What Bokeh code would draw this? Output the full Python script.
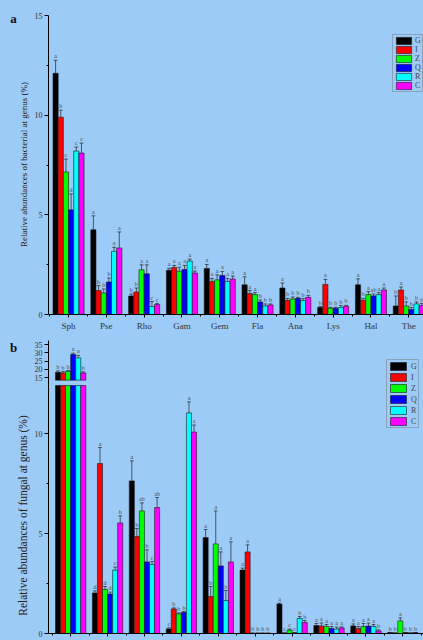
import numpy as np
from bokeh.plotting import figure
from bokeh.models import Range1d, FixedTicker, Legend, LegendItem
from bokeh.layouts import column, row
from bokeh.embed import file_html
from bokeh.resources import INLINE
from bokeh.core.properties import value

# ---------------- data ----------------
series = ["G", "I", "Z", "Q", "R", "C"]
colors = ["#000000", "#FF0000", "#00FF00", "#0000FF", "#00FFFF", "#FF00FF"]

bac_genera = ["Sph", "Pse", "Rho", "Gam", "Gem", "Fla", "Ana", "Lys", "Hal", "The"]
bac_G = [12.1, 4.25, 0.93, 2.22, 2.31, 1.49, 1.33, 0.35, 1.49, 0.43]
bac_I = [9.9, 1.2, 1.13, 2.36, 1.66, 1.05, 0.71, 1.51, 0.71, 1.23]
bac_Z = [7.15, 1.08, 2.24, 2.17, 1.74, 1.0, 0.78, 0.31, 1.0, 0.43]
bac_Q = [5.25, 1.63, 2.04, 2.26, 1.96, 0.63, 0.81, 0.31, 0.93, 0.25]
bac_R = [8.2, 3.17, 0.4, 2.68, 1.66, 0.43, 0.7, 0.35, 1.0, 0.53]
bac_C = [8.1, 3.34, 0.5, 2.08, 1.78, 0.48, 0.86, 0.41, 1.23, 0.45]
bac_G_err = [0.65, 0.7, 0.1, 0.1, 0.2, 0.4, 0.25, 0.05, 0.3, 0.5]
bac_I_err = [0.35, 0.25, 0.2, 0.1, 0.15, 0.15, 0.1, 0.25, 0.1, 0.15]
bac_Z_err = [0.65, 0.2, 0.25, 0.2, 0.25, 0.1, 0.1, 0.05, 0.15, 0.2]
bac_Q_err = [0.8, 0.2, 0.45, 0.2, 0.2, 0.1, 0.05, 0.05, 0.1, 0.1]
bac_R_err = [0.2, 0.2, 0.25, 0.1, 0.15, 0.1, 0.1, 0.1, 0.1, 0.1]
bac_C_err = [0.5, 0.8, 0.05, 0.1, 0.15, 0.05, 0.1, 0.05, 0.1, 0.1]
bac_G_sig = ["a", "a", "b", "a", "a", "a", "a", "b", "a", "b"]
bac_I_sig = ["b", "b", "b", "a", "a", "a", "b", "a", "b", "a"]
bac_Z_sig = ["c", "b", "a", "a", "a", "a", "b", "b", "a", "b"]
bac_Q_sig = ["d", "b", "a", "a", "a", "b", "b", "b", "ab", "b"]
bac_R_sig = ["c", "a", "c", "a", "a", "b", "b", "b", "a", "b"]
bac_C_sig = ["c", "a", "c", "a", "a", "b", "b", "b", "a", "b"]

fun_n = 10
fun_G = [18.2, 2.03, 7.63, 0.23, 4.8, 3.17, 1.47, 0.4, 0.38, 0.05]
fun_I = [17.8, 8.5, 4.85, 1.23, 1.85, 4.08, 0.03, 0.38, 0.25, 0.03]
fun_Z = [18.6, 2.2, 6.13, 0.98, 4.48, 0.02, 0.17, 0.35, 0.35, 0.63]
fun_Q = [28.9, 1.97, 3.58, 1.05, 3.38, 0.02, 0.04, 0.25, 0.37, 0.05]
fun_R = [26.9, 3.17, 3.45, 11.03, 1.65, 0.02, 0.75, 0.22, 0.35, 0.03]
fun_C = [17.8, 5.53, 6.3, 10.07, 3.58, 0.02, 0.55, 0.28, 0.13, 0.05]
fun_G_err = [0.8, 0.1, 1.0, 0.05, 0.4, 0.1, 0.05, 0.1, 0.1, 0.0]
fun_I_err = [0.8, 0.8, 0.4, 0.05, 0.5, 0.35, 0.0, 0.15, 0.1, 0.0]
fun_Z_err = [0.6, 0.15, 0.4, 0.05, 1.65, 0.0, 0.05, 0.1, 0.15, 0.15]
fun_Q_err = [0.8, 0.1, 0.6, 0.05, 0.7, 0.0, 0.0, 0.1, 0.15, 0.0]
fun_R_err = [1.5, 0.15, 0.15, 0.55, 0.5, 0.0, 0.1, 0.1, 0.1, 0.0]
fun_C_err = [0.6, 0.35, 0.5, 0.35, 1.0, 0.0, 0.1, 0.05, 0.05, 0.0]
fun_G_sig = ["b", "d", "a", "c", "a", "a", "a", "a", "a", "b"]
fun_I_sig = ["b", "a", "b", "b", "b", "a", "c", "a", "a", "b"]
fun_Z_sig = ["b", "d", "ab", "b", "a", "b", "c", "a", "a", "a"]
fun_Q_sig = ["a", "d", "b", "b", "a", "b", "c", "a", "a", "b"]
fun_R_sig = ["a", "c", "c", "a", "b", "b", "b", "a", "a", "b"]
fun_C_sig = ["b", "b", "ab", "a", "a", "b", "b", "a", "b", "b"]

bac_vals = [bac_G, bac_I, bac_Z, bac_Q, bac_R, bac_C]
bac_errs = [bac_G_err, bac_I_err, bac_Z_err, bac_Q_err, bac_R_err, bac_C_err]
bac_sigs = [bac_G_sig, bac_I_sig, bac_Z_sig, bac_Q_sig, bac_R_sig, bac_C_sig]
fun_vals = [fun_G, fun_I, fun_Z, fun_Q, fun_R, fun_C]
fun_errs = [fun_G_err, fun_I_err, fun_Z_err, fun_Q_err, fun_R_err, fun_C_err]
fun_sigs = [fun_G_sig, fun_I_sig, fun_Z_sig, fun_Q_sig, fun_R_sig, fun_C_sig]

label_a = "a"
label_b = "b"
ylabel_a = "Relative abundances of bacterial at genus (%)"
ylabel_b = "Relative abundances of fungal at genus (%)"

# ---------------- style ----------------
BG = "#9DCBF7"
FONT = "Liberation Serif"
BAR_W = 0.137
CAP = 0.05
SIDE_W = 30
AX_W = 18
W = 423 - SIDE_W
HA, HB = 333, 307
A_TOP, A_BOT = 15, 17          # borders of panel a
B_TOP, B_BOT = 7, 7            # borders of panel b


def style(p):
    p.background_fill_color = BG
    p.border_fill_color = BG
    p.outline_line_color = None
    p.xgrid.visible = False
    p.ygrid.visible = False
    for ax in (p.xaxis[0], p.yaxis[0]):
        ax.axis_line_color = "#000000"
        ax.axis_line_width = 1
        ax.major_tick_line_color = "#000000"
        ax.minor_tick_line_color = "#000000"
        ax.major_tick_in = 0
        ax.minor_tick_in = 0
        ax.major_label_text_font = FONT
        ax.major_label_text_color = "#333333"
    p.yaxis.major_tick_out = 4
    p.yaxis.minor_tick_out = 2
    p.yaxis.major_label_standoff = 2
    p.yaxis.major_label_text_font_size = "8px"
    p.xaxis.major_tick_out = 3
    p.xaxis.minor_tick_out = 2


def side_panel(height, frame_top, frame_bot, top_b, bot_b, letter, letter_y,
               ylabel, ylabel_x, ylabel_y, ylabel_size):
    # narrow strip left of each panel carrying the panel letter and the y title;
    # its frame is aligned with the neighbouring plot frame (page-pixel y range)
    s = figure(width=SIDE_W, height=height, x_range=Range1d(0, SIDE_W),
               y_range=Range1d(frame_bot, frame_top),
               output_backend="svg", toolbar_location=None,
               min_border_left=0, min_border_right=0,
               min_border_top=top_b, min_border_bottom=bot_b)
    s.background_fill_color = BG
    s.border_fill_color = BG
    s.outline_line_color = None
    s.axis.visible = False
    s.grid.visible = False
    s.text(x=[13], y=[letter_y], text=[letter], text_font=value(FONT),
           text_font_size="13px", text_font_style="bold", text_align="center",
           text_baseline="middle", text_color="#111111")
    s.text(x=[ylabel_x], y=[ylabel_y], text=[ylabel], angle=np.pi / 2,
           text_font=value(FONT), text_font_size=ylabel_size, text_align="center",
           text_baseline="middle", text_color="#222222")
    return s


def draw_series(p, j, vals, errs, bottom=0.0, cap_top=None, range_name="default"):
    n = len(vals)
    xs = np.arange(n) + (j - 2.5) * BAR_W
    v = np.array(vals, dtype=float)
    e = np.array(errs, dtype=float)
    top = v if cap_top is None else np.minimum(v, cap_top)
    r = p.vbar(x=xs, top=top, bottom=bottom, width=BAR_W, fill_color=colors[j],
               line_color="#1a1a1a", line_width=0.6, y_range_name=range_name)
    return r, xs, v, e


def draw_err(p, xs, v, e, sigs, range_name="default", mask=None):
    if mask is None:
        mask = np.ones(len(v), dtype=bool)
    xs, v, e = xs[mask], v[mask], e[mask]
    s = [sg for sg, m in zip(sigs, mask) if m]
    p.segment(x0=xs, y0=v, x1=xs, y1=v + e, line_color="#222222", line_width=0.7,
              y_range_name=range_name)
    p.segment(x0=xs - CAP, y0=v + e, x1=xs + CAP, y1=v + e, line_color="#222222",
              line_width=0.7, y_range_name=range_name)
    p.text(x=xs, y=v + e, text=s, text_font=value(FONT), text_font_size="6px",
           text_align="center", text_baseline="bottom", y_offset=-1,
           text_color="#444444", y_range_name=range_name)


# ---------------- panel a ----------------
pA = figure(width=W, height=HA, x_range=Range1d(-0.53, 9.39), y_range=Range1d(0, 15),
            output_backend="svg", toolbar_location=None,
            min_border_left=AX_W, min_border_right=0,
            min_border_top=A_TOP, min_border_bottom=A_BOT)
style(pA)
pA.yaxis.ticker = FixedTicker(ticks=[0, 5, 10, 15], minor_ticks=[2.5, 7.5, 12.5])
pA.xaxis.ticker = FixedTicker(ticks=list(range(len(bac_genera))),
                              minor_ticks=[i + 0.5 for i in range(-1, len(bac_genera))])
pA.xaxis.major_label_overrides = {i: g for i, g in enumerate(bac_genera)}
pA.xaxis.major_label_text_font_size = "9px"
pA.xaxis.major_label_standoff = 3

itemsA = []
for j in range(6):
    r, xs, v, e = draw_series(pA, j, bac_vals[j], bac_errs[j])
    draw_err(pA, xs, v, e, bac_sigs[j])
    itemsA.append(LegendItem(label=series[j], renderers=[r]))

legA = Legend(items=itemsA, location=(344, 222), glyph_width=19, glyph_height=9,
              label_height=9, label_width=5, spacing=0, padding=1, margin=0,
              label_standoff=2, label_text_font=FONT, label_text_font_size="8px",
              border_line_color="#777777", border_line_width=0.8,
              background_fill_alpha=0)
pA.add_layout(legA)
sideA = side_panel(HA, A_TOP, HA - A_BOT, A_TOP, A_BOT, label_a, 18,
                   ylabel_a, 23, 165, "9px")

# ---------------- panel b (broken axis) ----------------
FH = HB - B_TOP - B_BOT   # frame height in px
PX_LO = 20.0              # px per unit, lower segment
PX_UP = 1.65              # px per unit, upper segment
L1 = FH / PX_LO
U1 = 35 + 4 / PX_UP
U0 = U1 - FH / PX_UP
BREAK_LO = 12.4
BREAK_UP = 13.4


def up_to_lo(val):
    return (val - U0) * L1 / (U1 - U0)


pB = figure(width=W, height=HB, x_range=Range1d(-0.6, 9.56), y_range=Range1d(0, L1),
            output_backend="svg", toolbar_location=None,
            min_border_left=AX_W, min_border_right=0,
            min_border_top=B_TOP, min_border_bottom=B_BOT)
pB.extra_y_ranges = {"upper": Range1d(U0, U1)}
style(pB)
up_ticks = [15, 20, 25, 30, 35]
pB.yaxis.ticker = FixedTicker(ticks=[0, 5, 10] + [up_to_lo(t) for t in up_ticks],
                              minor_ticks=[2.5, 7.5])
pB.yaxis.major_label_overrides = {up_to_lo(t): str(t) for t in up_ticks}
pB.xaxis.ticker = FixedTicker(ticks=list(range(fun_n)),
                              minor_ticks=[i + 0.5 for i in range(-1, fun_n)])
pB.xaxis.major_label_overrides = {i: "" for i in range(fun_n)}
pB.xaxis.major_label_text_font_size = "8px"
pB.xaxis.major_label_standoff = 0

itemsB = []
for j in range(6):
    r, xs, v, e = draw_series(pB, j, fun_vals[j], fun_errs[j], cap_top=BREAK_LO)
    itemsB.append(LegendItem(label=series[j], renderers=[r]))
    hi = v > BREAK_LO
    if hi.any():
        pB.vbar(x=xs[hi], top=v[hi], bottom=BREAK_UP, width=BAR_W, fill_color=colors[j],
                line_color="#1a1a1a", line_width=0.6, y_range_name="upper")
        draw_err(pB, xs, v, e, fun_sigs[j], range_name="upper", mask=hi)
    draw_err(pB, xs, v, e, fun_sigs[j], mask=~hi)

legB = Legend(items=itemsB, location=(338, 205), glyph_width=20, glyph_height=10,
              label_height=10, label_width=6, spacing=1, padding=1, margin=0,
              label_standoff=3, label_text_font=FONT, label_text_font_size="8px",
              border_line_color="#777777", border_line_width=0.8,
              background_fill_alpha=0)
pB.add_layout(legB)
sideB = side_panel(HB, HA + B_TOP, HA + HB - B_BOT, B_TOP, B_BOT,
                   label_b, 347, ylabel_b, 22, 515, "11.5px")

p = column(row(sideA, pA, spacing=0), row(sideB, pB, spacing=0), spacing=0,
           styles={"background-color": BG})
html = file_html(p, INLINE).replace(
    "</head>", "<style>html, body {background-color: %s;}</style></head>" % BG, 1)
open("out.html", "w").write(html)
